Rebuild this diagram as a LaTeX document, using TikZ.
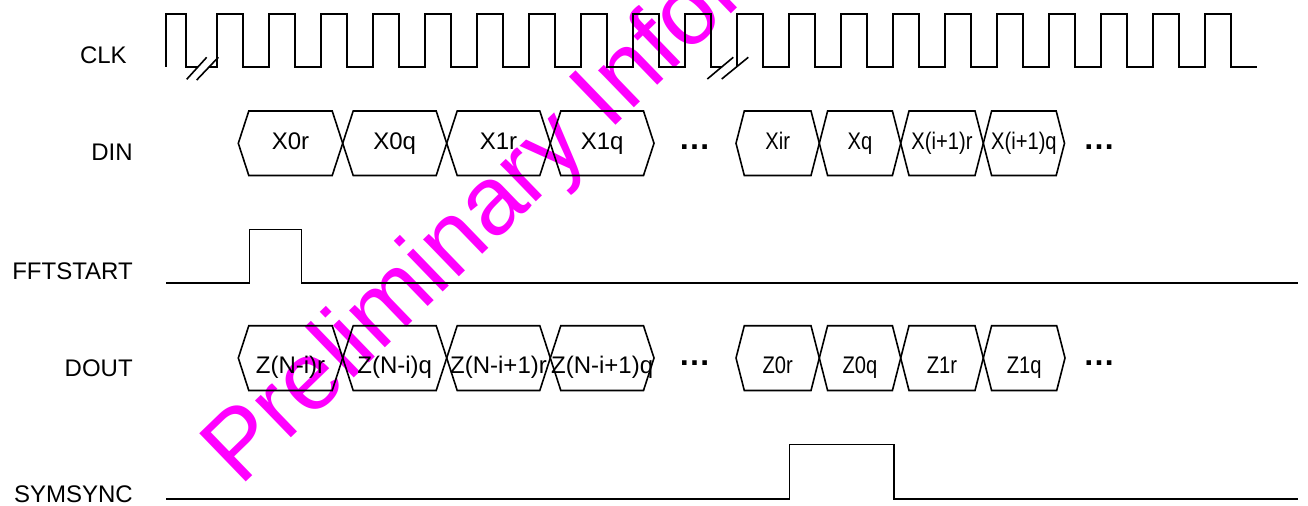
\documentclass[tikz,border=0pt]{standalone}
\usepackage{fontspec}
\setmainfont{Liberation Sans}
\usetikzlibrary{positioning}
\definecolor{stampcol}{RGB}{255,0,255}

\begin{document}
\begin{tikzpicture}[x=0.75pt,y=-0.75pt]
	\tikzstyle{wave} = [line width=1.2pt, black]
	\tikzstyle{brk} = [line width=1.2pt, black]
	\tikzstyle{siglabel} = [anchor=base east, inner sep=0pt, font=\fontsize{18}{21}\selectfont]
	\tikzstyle{celltext} = [anchor=base, inner sep=0pt, font=\fontsize{18}{21}\selectfont]
	\tikzstyle{narrowtext} = [celltext, xscale=0.84]
	\tikzstyle{more} = [anchor=base, inner sep=0pt, font=\fontsize{24}{26}\selectfont\bfseries]
	\tikzstyle{stamp} = [anchor=base west, inner sep=0pt, rotate=44, text=stampcol, font=\fontsize{73}{76}\selectfont]
	\useasboundingbox (0,0) rectangle (1308,506);

	% Watermark
	\begin{scope}
		\clip (0,0) rectangle (1308,506);
		\node[stamp] (mark) at (240,488) {Preliminary Infor};
	\end{scope}

	% Signal names
	\node[siglabel] (clk) at (127,64) {CLK};
	\node[siglabel] (din) at (133,161) {DIN};
	\node[siglabel] (fft) at (133,279) {FFTSTART};
	\node[siglabel] (dout) at (133,376) {DOUT};
	\node[siglabel] (sym) at (133,502) {SYMSYNC};

	% Clock
	\draw[wave] (166,67) -- (166,14) -- (186,14) -- (186,67) -- (198,67);
	\draw[wave] (209,67) foreach \k in {0,...,9} { -- ({217+52*\k},67) -- ({217+52*\k},14) -- ({243+52*\k},14) -- ({243+52*\k},67) } -- (721.7,67);
	\draw[wave] (737,67) foreach \k in {0,...,9} { -- ({737+52*\k},67) -- ({737+52*\k},14) -- ({763+52*\k},14) -- ({763+52*\k},67) } -- (1257,67);
	% Clock breaks
	\draw[brk] (186.7,79.3) -- (206.7,57.3);
	\draw[brk] (196.7,80) -- (218.3,57.3);
	\draw[brk] (707.3,79) -- (733.3,57.3);
	\draw[brk] (721.7,79) -- (748.3,57.3);

	% Input data
	\foreach \a/\b/\d/\t [count=\i] in {238.3/342.7/10.5/X0r, 342.7/446.7/10.5/X0q, 446.7/550.3/10.5/X1r, 550.3/654/10.5/X1q} {
		\draw[wave] (\a,143.3) -- ({\a+\d},111) -- ({\b-\d},111) -- (\b,143.3) -- ({\b-\d},175.5) -- ({\a+\d},175.5) -- cycle;
		\node[celltext] (x\i) at ({(\a+\b)/2},150) {\t};
	}
	\foreach \a/\b/\d/\t [count=\i from 5] in {736/819.3/8.3/Xir, 819.3/900.7/8.3/Xq, 900.7/983.3/8.3/X(i+1)r, 983.3/1064.5/8.3/X(i+1)q} {
		\draw[wave] (\a,143.3) -- ({\a+\d},111) -- ({\b-\d},111) -- (\b,143.3) -- ({\b-\d},175.5) -- ({\a+\d},175.5) -- cycle;
		\node[narrowtext] (x\i) at ({(\a+\b)/2},150) {\t};
	}
	\node[more] (xdots1) at (694.5,150) {…};
	\node[more] (xdots2) at (1099,150) {…};

	% Start pulse
	\draw[wave] (166,282.7) -- (249.3,282.7) -- (249.3,229.3) -- (301.3,229.3) -- (301.3,282.7) -- (1298,282.7);

	% Output data
	\foreach \a/\b/\d/\t [count=\i] in {238.3/342.7/10.5/Z(N-i)r, 342.7/446.7/10.5/Z(N-i)q, 446.7/550.3/10.5/Z(N-i+1)r, 550.3/654/10.5/Z(N-i+1)q} {
		\draw[wave] (\a,358) -- ({\a+\d},325.7) -- ({\b-\d},325.7) -- (\b,358) -- ({\b-\d},390.5) -- ({\a+\d},390.5) -- cycle;
		\node[celltext] (z\i) at ({(\a+\b)/2},373.3) {\t};
	}
	\foreach \a/\b/\d/\t [count=\i from 5] in {736/819.3/8.3/Z0r, 819.3/900.7/8.3/Z0q, 900.7/983.3/8.3/Z1r, 983.3/1065/8.3/Z1q} {
		\draw[wave] (\a,358) -- ({\a+\d},325.7) -- ({\b-\d},325.7) -- (\b,358) -- ({\b-\d},390.5) -- ({\a+\d},390.5) -- cycle;
		\node[narrowtext] (z\i) at ({(\a+\b)/2},373.3) {\t};
	}
	\node[more] (zdots1) at (694.5,365) {…};
	\node[more] (zdots2) at (1099,365) {…};

	% Symbol sync
	\draw[wave] (166,498.7) -- (789.3,498.7) -- (789.3,444.3) -- (893.7,444.3) -- (893.7,498.7) -- (1298,498.7);
\end{tikzpicture}
\end{document}
